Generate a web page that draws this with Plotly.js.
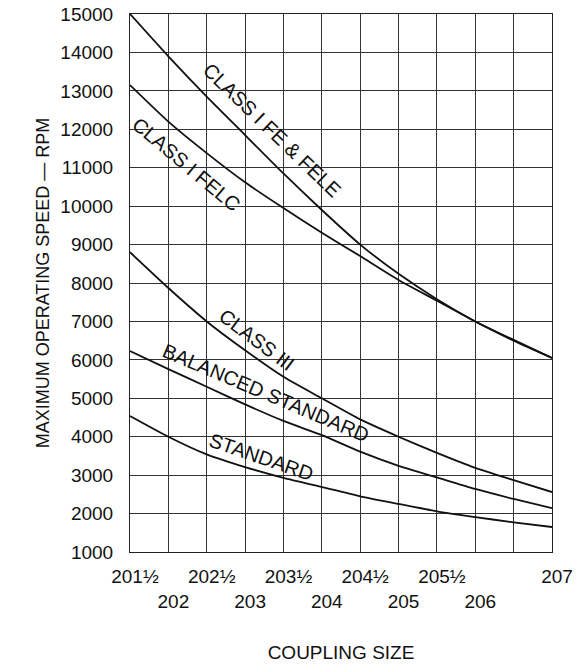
<!DOCTYPE html>
<html>
<head>
<meta charset="utf-8">
<script src="https://cdn.plot.ly/plotly-3.0.1.min.js"></script>
<style>html,body{margin:0;padding:0;background:#fff;}#chart{width:577px;height:666px;}</style>
</head>
<body>
<div id="chart"></div>
<script>
// Coupling sizes (x categories)
const couplingSizes = ['201½','202','202½','203','203½','204','204½','205','205½','206','206½','207'];
// Tick label rows as printed (second row pushed down one line)
const tickLabels = ['201½','<br>202','202½','<br>203','203½','<br>204','204½','<br>205','205½','<br>206','','207'];

// Maximum operating speed (RPM) per coupling size
const classIFeFele   = [15000, 13900, 12850, 11850, 10850, 9900, 9000, 8240, 7580, 7000, 6500, 6050];
const classIFelc     = [13150, 12200, 11380, 10620, 9950, 9310, 8700, 8080, 7540, 7000, 6520, 6050];
const classIII       = [8800, 7870, 7000, 6250, 5560, 5000, 4450, 4000, 3580, 3190, 2870, 2560];
const balancedStd    = [6230, 5760, 5300, 4840, 4410, 4040, 3610, 3240, 2940, 2640, 2380, 2140];
const standard       = [4540, 4000, 3540, 3210, 2930, 2690, 2450, 2250, 2060, 1910, 1770, 1650];

const seriesNames = ['CLASS I FE & FELE','CLASS I FELC','CLASS III','BALANCED STANDARD','STANDARD'];
const seriesValues = [classIFeFele, classIFelc, classIII, balancedStd, standard];

const FONT = 'Liberation Sans, Arial, Helvetica, sans-serif';

const traces = seriesValues.map((vals, k) => ({
  type: 'scatter', mode: 'lines', name: seriesNames[k],
  x: couplingSizes, y: vals,
  line: {color: '#111', width: 1.8, shape: 'spline', smoothing: 0.6},
  hoverinfo: 'skip', showlegend: false
}));

// label placements along the curves
const labelPos = [
  {x: 3.70, y: 11980, a: 44},
  {x: 1.46, y: 11100, a: 40},
  {x: 3.31, y: 6520,  a: 37},
  {x: 3.55, y: 5140,  a: 23},
  {x: 3.42, y: 3470,  a: 19}
];
const annotations = seriesNames.map((n, k) => ({
  text: n, xref: 'x', yref: 'y', x: labelPos[k].x, y: labelPos[k].y,
  textangle: labelPos[k].a, showarrow: false,
  font: {family: FONT, size: 20, color: '#111'}
}));

const layout = {
  width: 577, height: 666,
  margin: {l: 130, r: 25, t: 14, b: 114, pad: 0},
  paper_bgcolor: '#fff', plot_bgcolor: '#fff',
  showlegend: false,
  font: {family: FONT, color: '#111'},
  xaxis: {
    type: 'category', range: [0, 11],
    categoryorder: 'array', categoryarray: couplingSizes,
    tickvals: couplingSizes, ticktext: tickLabels, tickangle: 0,
    ticks: '', ticklabelstandoff: 7, ticklabelshift: 5,
    tickfont: {family: FONT, size: 19, color: '#111'},
    showgrid: true, gridcolor: '#333', gridwidth: 1,
    showline: true, linecolor: '#222', linewidth: 1, mirror: true,
    zeroline: false, automargin: false,
    title: {text: 'COUPLING SIZE', font: {family: FONT, size: 19, color: '#111'}, standoff: 35}
  },
  yaxis: {
    range: [1000, 15000], dtick: 1000, tick0: 1000, tickformat: 'd',
    ticks: '', ticklabelstandoff: 12,
    tickfont: {family: FONT, size: 19, color: '#111'},
    showgrid: true, gridcolor: '#333', gridwidth: 1,
    showline: true, linecolor: '#222', linewidth: 1, mirror: true,
    zeroline: false, automargin: false,
    title: {text: 'MAXIMUM OPERATING SPEED — RPM', font: {family: FONT, size: 18, color: '#111'}, standoff: 6}
  },
  annotations: annotations
};

Plotly.newPlot('chart', traces, layout, {displayModeBar: false, staticPlot: true});
</script>
</body>
</html>
